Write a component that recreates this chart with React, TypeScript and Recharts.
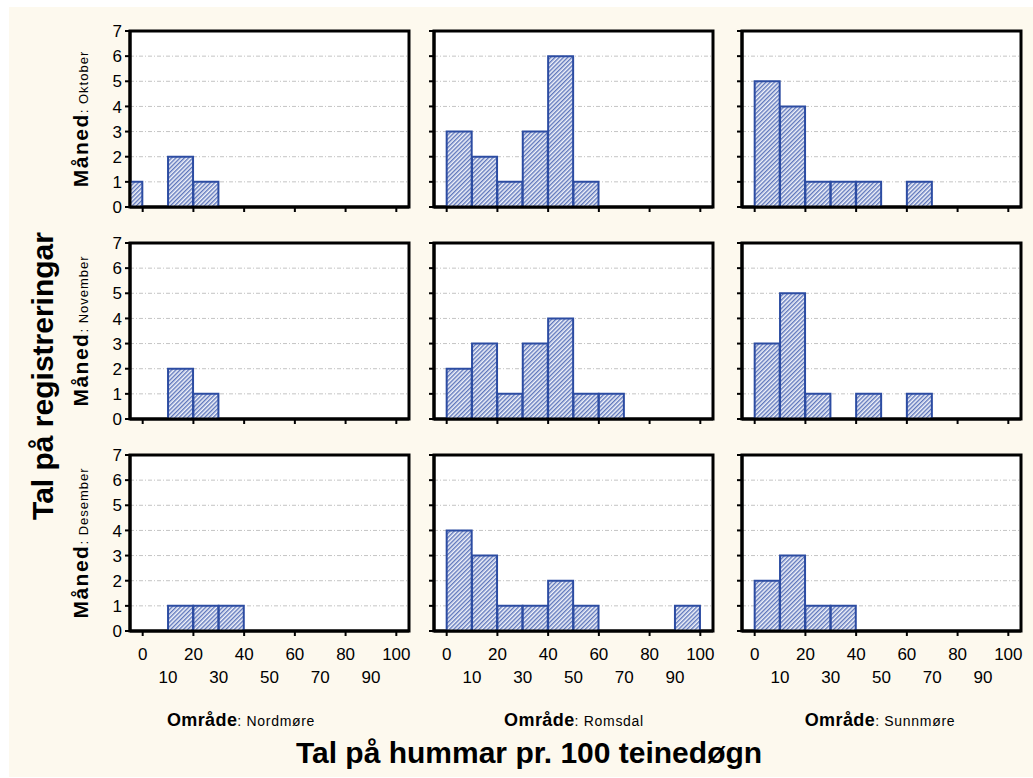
import React from 'react';
import { BarChart, Bar, XAxis, YAxis, CartesianGrid, ReferenceArea } from 'recharts';

// ---- data ----
const binCenters = [-5, 5, 15, 25, 35, 45, 55, 65, 75, 85, 95];
const areas = ['Nordmøre', 'Romsdal', 'Sunnmøre'];
const months = ['Oktober', 'November', 'Desember'];

const oktoberNordmore = [1, 0, 2, 1, 0, 0, 0, 0, 0, 0, 0];
const oktoberRomsdal = [0, 3, 2, 1, 3, 6, 1, 0, 0, 0, 0];
const oktoberSunnmore = [0, 5, 4, 1, 1, 1, 0, 1, 0, 0, 0];
const novemberNordmore = [0, 0, 2, 1, 0, 0, 0, 0, 0, 0, 0];
const novemberRomsdal = [0, 2, 3, 1, 3, 4, 1, 1, 0, 0, 0];
const novemberSunnmore = [0, 3, 5, 1, 0, 1, 0, 1, 0, 0, 0];
const desemberNordmore = [0, 0, 1, 1, 1, 0, 0, 0, 0, 0, 0];
const desemberRomsdal = [0, 4, 3, 1, 1, 2, 1, 0, 0, 0, 1];
const desemberSunnmore = [0, 2, 3, 1, 1, 0, 0, 0, 0, 0, 0];

const xDomain = [-5, 105];
const yDomain = [0, 7];
const xMajorTicks = [0, 20, 40, 60, 80, 100];
const xLabelTicks = [0, 10, 20, 30, 40, 50, 60, 70, 80, 90, 100];
const yTicks = [0, 1, 2, 3, 4, 5, 6, 7];

const xTitle = 'Tal på hummar pr. 100 teinedøgn';
const yTitle = 'Tal på registreringar';
const rowVar = 'Måned';
const colVar = 'Område';

const panelCounts = [
  [oktoberNordmore, oktoberRomsdal, oktoberSunnmore],
  [novemberNordmore, novemberRomsdal, novemberSunnmore],
  [desemberNordmore, desemberRomsdal, desemberSunnmore],
];

// ---- layout ----
const FONT = '"Liberation Sans", Arial, sans-serif';
const PLOT_W = 279;
const PLOT_H = 176;
const COL_LEFT = [130, 434, 742];
const ROW_TOP = [31, 243, 455];
const COL_LABEL_X = [241, 574, 880];
const Y_AXIS_W = 60;
const TOP_PAD = 10;
const RIGHT_PAD = 10;
const BAR_STROKE = '#2c4ca2';

const XTick = (props: any) => {
  const { x, y, payload, showLabels } = props;
  const v = payload.value;
  const major = v % 20 === 0;
  return (
    <g>
      {major && <line x1={x} x2={x} y1={y} y2={y + 5} stroke="#000" strokeWidth={2} />}
      {showLabels && (
        <text
          x={x}
          y={y + (major ? 29 : 52)}
          textAnchor="middle"
          fontSize={17}
          fontFamily={FONT}
          fill="#000"
        >
          {v}
        </text>
      )}
    </g>
  );
};

const YTick = (props: any) => {
  const { x, y, payload, showLabels } = props;
  return (
    <g>
      <line x1={x} x2={x - 5} y1={y} y2={y} stroke="#000" strokeWidth={2} />
      {showLabels && (
        <text
          x={x - 8}
          y={y}
          dy="0.36em"
          textAnchor="end"
          fontSize={17}
          fontFamily={FONT}
          fill="#000"
        >
          {payload.value}
        </text>
      )}
    </g>
  );
};

function Panel({ row, col }: { row: number; col: number }) {
  const counts = panelCounts[row][col];
  const data = binCenters.map((c, i) => ({ x: c, n: counts[i] }));
  const bottom = row === 2;
  const xAxisH = bottom ? 60 : 12;
  const width = Y_AXIS_W + PLOT_W + RIGHT_PAD;
  const height = TOP_PAD + PLOT_H + xAxisH;
  return (
    <div
      style={{
        position: 'absolute',
        left: COL_LEFT[col] - Y_AXIS_W,
        top: ROW_TOP[row] - TOP_PAD,
        width,
        height,
      }}
    >
      <BarChart
        width={width}
        height={height}
        data={data}
        margin={{ top: TOP_PAD, right: RIGHT_PAD, bottom: 0, left: 0 }}
        barCategoryGap={0}
        barGap={0}
      >
        <CartesianGrid
          vertical={false}
          stroke="#c4c4c4"
          strokeWidth={1}
          strokeDasharray="4 2 1 2"
          fill="#ffffff"
          fillOpacity={1}
        />
        <XAxis
          dataKey="x"
          type="number"
          domain={xDomain}
          allowDataOverflow
          ticks={bottom ? xLabelTicks : xMajorTicks}
          interval={0}
          tickSize={0}
          tickMargin={0}
          tickLine={false}
          height={xAxisH}
          axisLine={{ stroke: '#000', strokeWidth: 3 }}
          tick={<XTick showLabels={bottom} />}
        />
        <YAxis
          type="number"
          domain={yDomain}
          ticks={yTicks}
          interval={0}
          width={Y_AXIS_W}
          tickSize={0}
          tickMargin={0}
          tickLine={false}
          axisLine={{ stroke: '#000', strokeWidth: 3 }}
          tick={<YTick showLabels={col === 0} />}
        />
        <Bar
          dataKey="n"
          fill="url(#hatch)"
          stroke={BAR_STROKE}
          strokeWidth={2}
          isAnimationActive={false}
        />
        <ReferenceArea
          x1={xDomain[0]}
          x2={xDomain[1]}
          y1={yDomain[0]}
          y2={yDomain[1]}
          fill="none"
          fillOpacity={0}
          stroke="#000"
          strokeWidth={3}
          strokeOpacity={1}
          ifOverflow="visible"
        />
      </BarChart>
    </div>
  );
}

export default function App() {
  return (
    <div
      style={{
        position: 'absolute',
        left: 0,
        top: 0,
        width: 1033,
        height: 778,
        background: '#ffffff',
        overflow: 'hidden',
        fontFamily: FONT,
      }}
    >
      <svg width={0} height={0} style={{ position: 'absolute' }}>
        <defs>
          <pattern
            id="hatch"
            patternUnits="userSpaceOnUse"
            width={3}
            height={3}
            patternTransform="rotate(45)"
          >
            <rect x={0} y={0} width={3} height={3} fill="#f1f3fa" />
            <line x1={0.75} y1={0} x2={0.75} y2={3} stroke="#4561b2" strokeWidth={1.2} />
          </pattern>
        </defs>
      </svg>
      <div
        style={{
          position: 'absolute',
          left: 9,
          top: 7,
          right: 0,
          bottom: 1,
          background: '#fdf9ee',
        }}
      />
      {[0, 1, 2].map((r) => [0, 1, 2].map((c) => <Panel key={`${r}-${c}`} row={r} col={c} />))}
      <svg
        width={1033}
        height={778}
        style={{ position: 'absolute', left: 0, top: 0, pointerEvents: 'none' }}
      >
        {months.map((m, r) => (
          <text
            key={m}
            transform={`translate(88, ${ROW_TOP[r] + PLOT_H / 2}) rotate(-90)`}
            textAnchor="middle"
            fontFamily={FONT}
            fill="#000"
          >
            <tspan fontSize={21} fontWeight="bold" letterSpacing={1.5}>
              {rowVar}
            </tspan>
            <tspan fontSize={13} letterSpacing={1}>
              {': ' + m}
            </tspan>
          </text>
        ))}
        {areas.map((a, c) => (
          <text
            key={a}
            x={COL_LABEL_X[c]}
            y={726}
            textAnchor="middle"
            fontFamily={FONT}
            fill="#000"
          >
            <tspan fontSize={18} fontWeight="bold" letterSpacing={0.4}>
              {colVar}
            </tspan>
            <tspan fontSize={14} letterSpacing={0.7}>
              {': ' + a}
            </tspan>
          </text>
        ))}
        <text
          x={529}
          y={763}
          textAnchor="middle"
          fontSize={30}
          fontWeight="bold"
          fontFamily={FONT}
          fill="#000"
        >
          {xTitle}
        </text>
        <text
          transform="translate(53, 376) rotate(-90)"
          textAnchor="middle"
          fontSize={30}
          fontWeight="bold"
          fontFamily={FONT}
          fill="#000"
        >
          {yTitle}
        </text>
      </svg>
    </div>
  );
}
